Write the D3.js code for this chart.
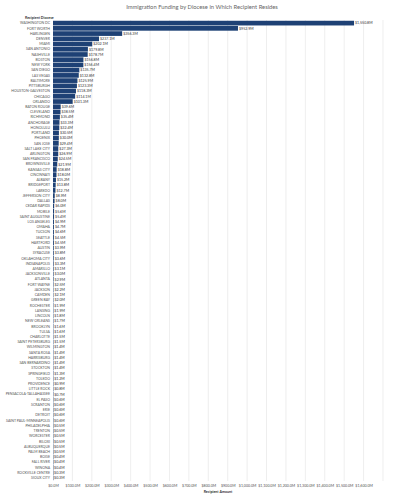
<!DOCTYPE html>
<html>
<head>
<meta charset="utf-8">
<script src="https://cdn.jsdelivr.net/npm/d3@7"></script>
<style>
  body { margin: 0; background: #fff; }
  text { font-family: Lato, "Open Sans", sans-serif; }
</style>
</head>
<body>
<script>
const dioceses = [
  "WASHINGTON DC", "FORT WORTH", "HARLINGEN", "DENVER", "MIAMI", "SAN ANTONIO",
  "NASHVILLE", "BOSTON", "NEW YORK", "SAN DIEGO", "LAS VEGAS", "BALTIMORE",
  "PITTSBURGH", "HOUSTON-GALVESTON", "CHICAGO", "ORLANDO", "BATON ROUGE", "CLEVELAND",
  "RICHMOND", "ANCHORAGE", "HONOLULU", "PORTLAND", "PHOENIX", "SAN JOSE",
  "SALT LAKE CITY", "ARLINGTON", "SAN FRANCISCO", "BROWNSVILLE", "KANSAS CITY", "CINCINNATI",
  "ALBANY", "BRIDGEPORT", "LAREDO", "JEFFERSON CITY", "DALLAS", "CEDAR RAPIDS",
  "MOBILE", "SAINT AUGUSTINE", "LOS ANGELES", "OMAHA", "TUCSON", "SEATTLE",
  "HARTFORD", "AUSTIN", "SYRACUSE", "OKLAHOMA CITY", "INDIANAPOLIS", "AMARILLO",
  "JACKSONVILLE", "ATLANTA", "FORT WAYNE", "JACKSON", "CAMDEN", "GREEN BAY",
  "ROCHESTER", "LANSING", "LINCOLN", "NEW ORLEANS", "BROOKLYN", "TULSA",
  "CHARLOTTE", "SAINT PETERSBURG", "WILMINGTON", "SANTA ROSA", "HARRISBURG", "SAN BERNARDINO",
  "STOCKTON", "SPRINGFIELD", "TOLEDO", "PROVIDENCE", "LITTLE ROCK", "PENSACOLA-TALLAHASSEE",
  "EL PASO", "SCRANTON", "ERIE", "DETROIT", "SAINT PAUL-MINNEAPOLIS", "PHILADELPHIA",
  "TRENTON", "WORCESTER", "BILOXI", "ALBUQUERQUE", "PALM BEACH", "BOISE",
  "FALL RIVER", "WINONA", "ROCKVILLE CENTRE", "SIOUX CITY"
];

// millions of dollars
const amounts = [
  1550.8, 952.9, 356.3, 237.1, 202.1, 179.8,
  178.7, 156.8, 156.4, 135.7, 132.8, 125.9,
  123.3, 118.3, 114.1, 101.3, 39.6, 38.5,
  35.4, 33.3, 32.4, 30.5, 30.0, 29.4,
  27.3, 26.9, 24.5, 21.9, 18.8, 18.0,
  15.2, 13.8, 12.7, 8.9, 8.0, 6.0,
  5.6, 5.4, 4.9, 4.7, 4.6, 4.5,
  4.5, 3.9, 3.8, 3.6, 3.3, 3.1,
  3.0, 2.9, 2.5, 2.2, 2.1, 2.0,
  1.9, 1.9, 1.8, 1.7, 1.6, 1.6,
  1.5, 1.5, 1.4, 1.4, 1.4, 1.4,
  1.4, 1.3, 1.2, 0.9, 0.8, 0.7,
  0.6, 0.6, 0.6, 0.6, 0.6, 0.5,
  0.5, 0.5, 0.5, 0.5, 0.5, 0.4,
  0.4, 0.4, 0.3, 0.3
];

const xTicks = [0, 100, 200, 300, 400, 500, 600, 700, 800, 900, 1000, 1100, 1200, 1300, 1400, 1500, 1600];
const gridTicks = [100, 200, 300, 400, 500, 600, 700, 800, 900, 1000, 1100, 1200, 1300, 1400, 1500, 1600, 1700];

const width = 400, height = 500;
const rows = dioceses.map((d, i) => ({ name: d, value: amounts[i] }));
const fmt = v => "$" + d3.format(",.1f")(v) + "M";

const svg = d3.select("body").append("svg")
  .attr("width", width)
  .attr("height", height);

const x = d3.scaleLinear().domain([0, 1700]).range([53, 383]);
const y = d3.scaleBand().domain(dioceses).range([20.5, 480.5]).paddingInner(0.1).paddingOuter(0.05);

svg.append("text")
  .attr("x", 202).attr("y", 9)
  .attr("text-anchor", "middle")
  .style("font-size", "5.8px")
  .attr("fill", "#666")
  .text("Immigration Funding by Diocese in Which Recipient Resides");

svg.append("text")
  .attr("x", 25).attr("y", 18.5)
  .style("font-size", "3.6px")
  .style("font-weight", "bold")
  .attr("fill", "#333")
  .text("Recipient Diocese");

// vertical gridlines
svg.append("g").selectAll("line")
  .data(gridTicks)
  .join("line")
  .attr("x1", d => x(d)).attr("x2", d => x(d))
  .attr("y1", 20).attr("y2", 481)
  .attr("stroke", "#e3e3e3")
  .attr("stroke-width", 0.6);

svg.append("g").selectAll("rect")
  .data(rows)
  .join("rect")
  .attr("x", x(0))
  .attr("y", d => y(d.name))
  .attr("width", d => Math.max(0.4, x(d.value) - x(0)))
  .attr("height", y.bandwidth())
  .attr("fill", "#1e4175");

svg.append("g").selectAll("text")
  .data(rows)
  .join("text")
  .attr("x", 50)
  .attr("y", d => y(d.name) + y.bandwidth() / 2)
  .attr("dy", "0.35em")
  .attr("text-anchor", "end")
  .style("font-size", "3.5px")
  .attr("fill", "#555")
  .text(d => d.name);

svg.append("g").selectAll("text")
  .data(rows)
  .join("text")
  .attr("x", d => x(d.value) + 1)
  .attr("y", d => y(d.name) + y.bandwidth() / 2)
  .attr("dy", "0.35em")
  .style("font-size", "3.6px")
  .attr("fill", "#333")
  .text(d => fmt(d.value));

const axis = d3.axisBottom(x)
  .tickValues(xTicks)
  .tickFormat(fmt)
  .tickSize(0)
  .tickPadding(3);

const ax = svg.append("g")
  .attr("transform", "translate(0,481)")
  .call(axis);
ax.select(".domain").remove();
ax.selectAll("text")
  .style("font-size", "3.6px")
  .attr("fill", "#555");

svg.append("text")
  .attr("x", x(850)).attr("y", 493)
  .attr("text-anchor", "middle")
  .style("font-size", "3.6px")
  .style("font-weight", "bold")
  .attr("fill", "#333")
  .text("Recipient Amount");
</script>
</body>
</html>
